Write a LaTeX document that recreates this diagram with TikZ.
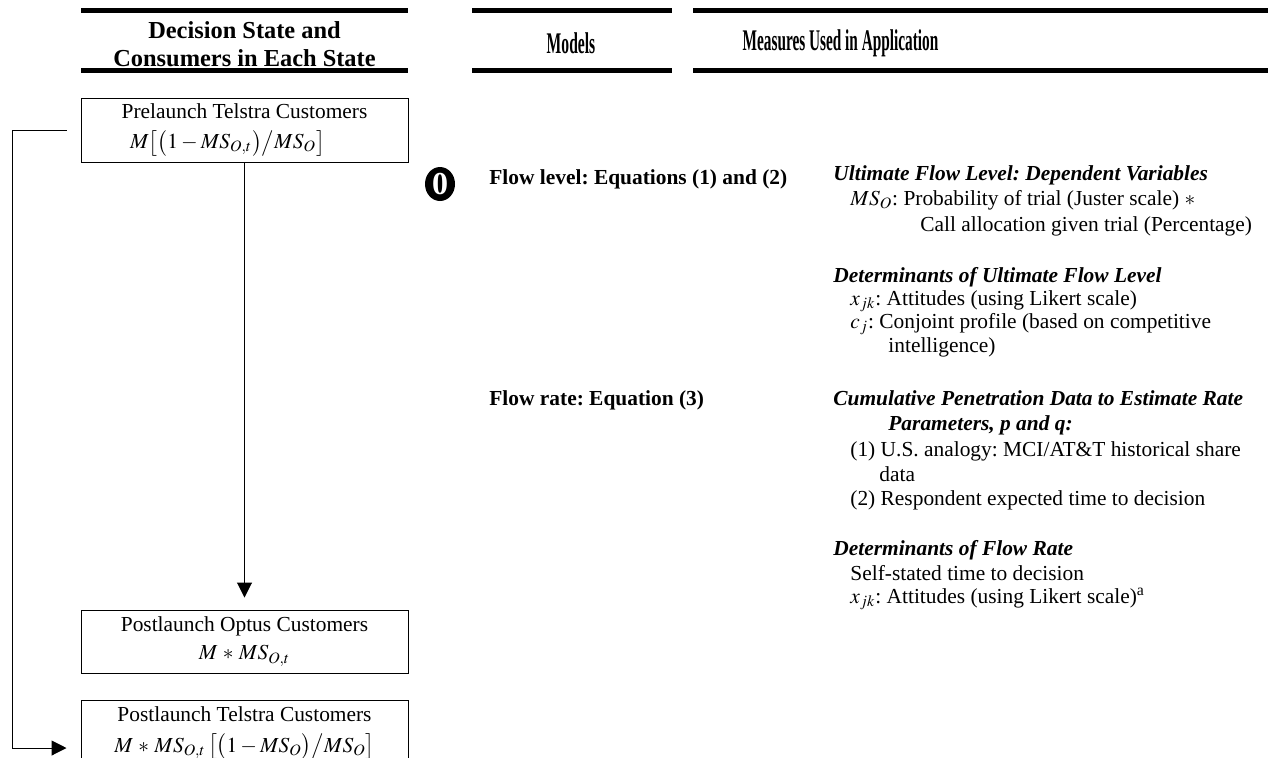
\documentclass[tikz,border=0pt]{standalone}
\usepackage{mathptmx}
\usepackage{fontspec}
\setmainfont{Liberation Serif}
\usetikzlibrary{arrows.meta,shapes.geometric}

\begin{document}
\frenchspacing
\begin{tikzpicture}[x=0.5pt,y=-0.5pt,
        rule/.style={line width=2.2pt},
        colhead/.style={align=center, font=\fontsize{12.2}{14}\selectfont\bfseries},
        narrowhead/.style={font=\fontsize{15}{15}\selectfont\bfseries},
        statebox/.style={rectangle, draw, line width=0.5pt, minimum width=163.5pt, inner sep=0pt, align=center, font=\fontsize{10.7}{13.5}\selectfont},
        txtline/.style={anchor=base west, inner sep=0pt, font=\fontsize{10.7}{13}\selectfont},
        subhead/.style={txtline, font=\fontsize{10.7}{13}\selectfont\bfseries\itshape},
        modelline/.style={txtline, font=\fontsize{10.7}{13}\selectfont\bfseries},
        flowarrow/.style={line width=0.5pt, -{Triangle[width=7.5pt,length=7.5pt]}}
    ]
    \useasboundingbox (0,0) rectangle (1268,757);
    % column headers
    \draw[rule] (81,10.5) -- (408,10.5) (81,70.5) -- (408,70.5);
    \draw[rule] (472,10.5) -- (672,10.5) (472,70.5) -- (672,70.5);
    \draw[rule] (693,10.5) -- (1268,10.5) (693,70.5) -- (1268,70.5);
    \node[colhead] (hstate) at (244.5,44) {Decision State and\\Consumers in Each State};
    \node[narrowhead] (hmodel) at (571,43) {\scalebox{0.52}[1]{Models}};
    \node[narrowhead] (hmeas) at (840.5,43) {\scalebox{0.51}[1]{Measures Used in Application}};

    % decision states
    \node[statebox, minimum height=32pt] (pre) at (244.5,130) {
        Prelaunch Telstra Customers\\[1.5pt]
        $M\bigl[\bigl(1-MS_{O,t}\bigr)\big/MS_O\bigr]$\hspace*{17pt}
    };
    \node[statebox, minimum height=31.5pt] (opt) at (244.5,641.5) {
        Postlaunch Optus Customers\\[0.5pt]
        $M\,*\,MS_{O,t}$
    };
    \node[statebox, minimum height=33pt] (tel) at (244.5,733) {
        Postlaunch Telstra Customers\\[2pt]
        $M\,*\,MS_{O,t}\,\bigl[\bigl(1-MS_O\bigr)\big/MS_O\bigr]$
    };
    \coordinate (telin) at ([xshift=-7pt,yshift=-7.5pt]tel.west);
    \draw[flowarrow, shorten >=6pt] (pre.south) -- (opt.north);
    \draw[flowarrow] ([xshift=-7pt]pre.west) -- ++(-27pt,0) |- (telin);

    % models
    \node[ellipse, fill=black, text=white, minimum width=15pt, minimum height=17pt, inner sep=0pt,
        font=\fontsize{16}{16}\selectfont\bfseries] (zero) at (440,184) {0};
    \node[modelline] (mlevel) at (489,184) {Flow level: Equations (1) and (2)};
    \node[modelline] (mrate) at (489,405) {Flow rate: Equation (3)};

    % measures
    \node[subhead] (u1) at (833,180) {Ultimate Flow Level: Dependent Variables};
    \node[txtline] (u2) at (850,205) {$MS_O$: Probability of trial (Juster scale) $*$};
    \node[txtline] (u3) at (920,231) {Call allocation given trial (Percentage)};
    \node[subhead] (d1) at (833,282) {Determinants of Ultimate Flow Level};
    \node[txtline] (d2) at (850,305) {$x_{jk}$: Attitudes (using Likert scale)};
    \node[txtline] (d3) at (850,328) {$c_j$: Conjoint profile (based on competitive};
    \node[txtline] (d4) at (888,352) {intelligence)};
    \node[subhead] (c1) at (833,405) {Cumulative Penetration Data to Estimate Rate};
    \node[subhead] (c2) at (888,430) {Parameters, p and q:};
    \node[txtline] (c3) at (850,456) {(1) U.S. analogy: MCI/AT\&T historical share};
    \node[txtline] (c4) at (879,481) {data};
    \node[txtline] (c5) at (850,505) {(2) Respondent expected time to decision};
    \node[subhead] (r1) at (833,555) {Determinants of Flow Rate};
    \node[txtline] (r2) at (850,580) {Self-stated time to decision};
    \node[txtline] (r3) at (850,603) {$x_{jk}$: Attitudes (using Likert scale)\textsuperscript{a}};
\end{tikzpicture}
\end{document}
